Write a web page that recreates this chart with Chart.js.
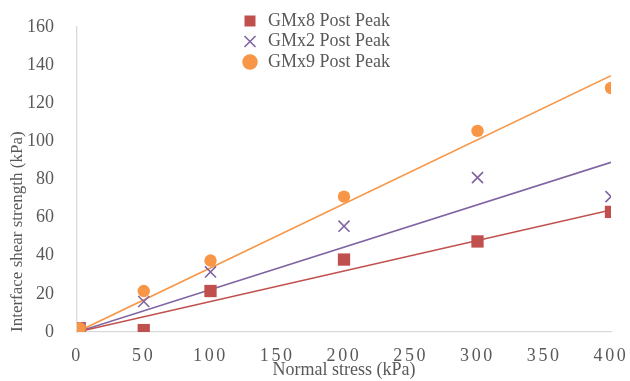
<!DOCTYPE html>
<html>
<head>
<meta charset="utf-8">
<script src="https://cdn.jsdelivr.net/npm/chart.js@4/dist/chart.umd.min.js"></script>
<style>
  html, body { margin: 0; padding: 0; background: #fff; }
  #wrap { width: 630px; height: 381px; }
</style>
</head>
<body>
<div id="wrap"><canvas id="chart1"></canvas></div>
<script>
// values
const normalStress = [2, 50, 100, 200, 300, 400];
const gmx8 = [2, 1, 21.5, 38, 47.5, 63];
const gmx2 = [2, 16, 31.5, 55.5, 81, 71];
const gmx9 = [2, 21.5, 37.5, 71, 105.5, 128];

// trend lines (start and end)
const trendX = [0, 400];
const trend8 = [0, 64];
const trend2 = [0, 89];
const trend9 = [0, 134.5];

const seriesNames = ['GMx8 Post Peak', 'GMx2 Post Peak', 'GMx9 Post Peak'];
const xTickStep = 50;
const yTickStep = 20;

const RED = '#C0504D';
const PURPLE = '#8064A2';
const ORANGE = '#F79646';
const GREY = '#595959';
const SERIF = '"Liberation Serif", "Times New Roman", serif';

function toPoints(xs, ys) {
    return xs.map((x, i) => ({ x: x, y: ys[i] }));
}

// the x tick labels are drawn letter spaced
function spaced(scale, fn, sp) {
    if (!scale || scale['_sp_' + fn]) return;
    const orig = scale[fn];
    scale[fn] = function () {
        const ctx = this.ctx;
        const old = ctx.letterSpacing;
        ctx.letterSpacing = sp;
        orig.apply(this, arguments);
        ctx.letterSpacing = old;
    };
    scale['_sp_' + fn] = true;
}

const tweaks = {
    id: 'tweaks',
    afterLayout(chart) {
        // put the legend inside the plot, upper middle
        const lg = chart.legend;
        if (lg) {
            lg.left = 238.5;
            lg.top = 9.5;
            lg.right = lg.left + lg.width;
            lg.bottom = lg.top + lg.height;
        }
    },
    beforeDraw(chart) {
        spaced(chart.scales.x, 'drawLabels', '2.7px');
    }
};

const ctx = document.getElementById('chart1');
new Chart(ctx, {
    type: 'scatter',
    data: {
        datasets: [
            {
                label: seriesNames[0],
                data: toPoints(normalStress, gmx8),
                pointStyle: 'rect',
                pointRadius: 8.7,
                backgroundColor: RED,
                borderColor: RED,
                borderWidth: 0,
                order: 2
            },
            {
                label: seriesNames[1],
                data: toPoints(normalStress, gmx2),
                pointStyle: 'crossRot',
                pointRadius: 7.8,
                backgroundColor: PURPLE,
                borderColor: PURPLE,
                borderWidth: 1.6,
                order: 1
            },
            {
                label: seriesNames[2],
                data: toPoints(normalStress, gmx9),
                pointStyle: 'circle',
                pointRadius: 6.2,
                backgroundColor: ORANGE,
                borderColor: ORANGE,
                borderWidth: 0,
                order: 0
            },
            {
                label: 'trend8',
                data: toPoints(trendX, trend8),
                showLine: true,
                pointRadius: 0,
                borderColor: RED,
                borderWidth: 1.6,
                order: 3
            },
            {
                label: 'trend2',
                data: toPoints(trendX, trend2),
                showLine: true,
                pointRadius: 0,
                borderColor: PURPLE,
                borderWidth: 1.6,
                order: 3
            },
            {
                label: 'trend9',
                data: toPoints(trendX, trend9),
                showLine: true,
                pointRadius: 0,
                borderColor: ORANGE,
                borderWidth: 1.6,
                order: 3
            }
        ]
    },
    options: {
        responsive: true,
        maintainAspectRatio: false,
        animation: false,
        layout: { padding: { left: 0, right: 19, top: 27, bottom: 0 } },
        plugins: {
            tooltip: { enabled: false },
            legend: {
                position: 'chartArea',
                align: 'start',
                labels: {
                    usePointStyle: true,
                    boxHeight: 11,
                    padding: 2.5,
                    color: GREY,
                    font: { family: SERIF, size: 18 },
                    filter: item => item.datasetIndex < 3,
                    sort: (a, b) => a.datasetIndex - b.datasetIndex
                }
            }
        },
        scales: {
            x: {
                type: 'linear',
                min: 0,
                max: 400,
                grid: { display: false },
                border: { display: true, color: '#D9D9D9', width: 1.3 },
                ticks: {
                    stepSize: xTickStep,
                    padding: 5.5,
                    color: GREY,
                    maxRotation: 0,
                    font: { family: SERIF, size: 18 }
                },
                title: {
                    display: true,
                    text: 'Normal stress (kPa)',
                    color: GREY,
                    font: { family: SERIF, size: 18 },
                    padding: { top: 0, bottom: 0 }
                },
                afterFit(scale) {
                    scale.height = 49;
                    scale.paddingLeft = 0;
                    scale.paddingRight = 0;
                }
            },
            y: {
                min: 0,
                max: 160,
                grid: { display: false },
                border: { display: true, color: '#D9D9D9', width: 1.3 },
                ticks: {
                    stepSize: yTickStep,
                    padding: 15,
                    color: GREY,
                    font: { family: SERIF, size: 18 }
                },
                title: {
                    display: true,
                    text: 'Interface shear strength (kPa)',
                    align: 'start',
                    color: GREY,
                    font: { family: SERIF, size: 17 },
                    padding: { top: 7, bottom: 0 }
                },
                afterFit(scale) {
                    scale.width = 77;
                    scale.paddingTop = 0;
                    scale.paddingBottom = 0;
                }
            }
        }
    },
    plugins: [tweaks]
});
</script>
</body>
</html>
